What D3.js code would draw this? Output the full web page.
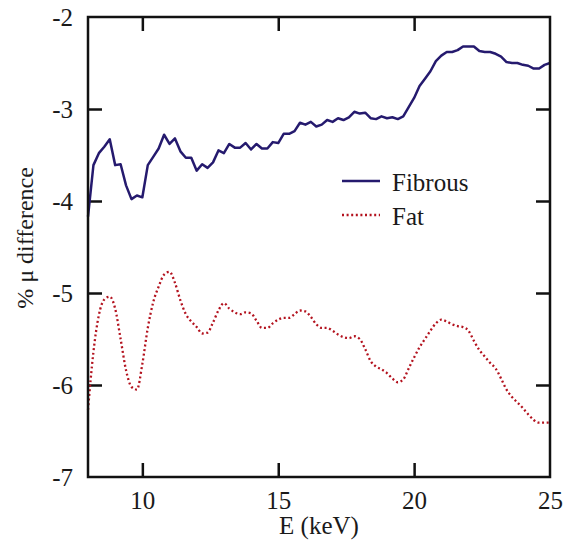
<!DOCTYPE html>
<html lang="en">
<head>
    <meta charset="UTF-8">
    <title>% mu difference</title>
    <script src="https://d3js.org/d3.v7.min.js"></script>
    <style>
        body { margin: 0; background: #fff; }
        svg text { font-family: "Liberation Serif", "Times New Roman", Tinos, "Noto Serif", "DejaVu Serif", FreeSerif, Georgia, serif; fill: #1a1a1a; }
    </style>
</head>
<body>
    <svg width="568" height="542" id="mainsvg"></svg>

    <script>
        // energies (keV)
        const energy = [8.0, 8.2, 8.4, 8.6, 8.8, 9.0, 9.2, 9.4, 9.6, 9.8,
            10.0, 10.2, 10.4, 10.6, 10.8, 11.0, 11.2, 11.4, 11.6, 11.8,
            12.0, 12.2, 12.4, 12.6, 12.8, 13.0, 13.2, 13.4, 13.6, 13.8,
            14.0, 14.2, 14.4, 14.6, 14.8, 15.0, 15.2, 15.4, 15.6, 15.8,
            16.0, 16.2, 16.4, 16.6, 16.8, 17.0, 17.2, 17.4, 17.6, 17.8,
            18.0, 18.2, 18.4, 18.6, 18.8, 19.0, 19.2, 19.4, 19.6, 19.8,
            20.0, 20.2, 20.4, 20.6, 20.8, 21.0, 21.2, 21.4, 21.6, 21.8,
            22.0, 22.2, 22.4, 22.6, 22.8, 23.0, 23.2, 23.4, 23.6, 23.8,
            24.0, 24.2, 24.4, 24.6, 24.8, 25.0]

        const fibrous = [-4.17, -3.61, -3.48, -3.41, -3.33, -3.61, -3.60, -3.83, -3.98, -3.94,
            -3.96, -3.61, -3.52, -3.43, -3.28, -3.38, -3.32, -3.46, -3.53, -3.53,
            -3.67, -3.60, -3.64, -3.58, -3.45, -3.48, -3.38, -3.42, -3.42, -3.37,
            -3.44, -3.38, -3.43, -3.43, -3.36, -3.37, -3.27, -3.27, -3.24, -3.15,
            -3.17, -3.14, -3.19, -3.17, -3.12, -3.14, -3.10, -3.12, -3.09, -3.03,
            -3.05, -3.04, -3.10, -3.11, -3.08, -3.10, -3.09, -3.11, -3.08, -2.98,
            -2.88, -2.75, -2.67, -2.59, -2.48, -2.42, -2.38, -2.38, -2.36, -2.32,
            -2.32, -2.32, -2.37, -2.38, -2.38, -2.40, -2.43, -2.49, -2.50, -2.50,
            -2.52, -2.53, -2.56, -2.56, -2.52, -2.50]

        const fat = [-6.27, -5.64, -5.24, -5.07, -5.04, -5.17, -5.50, -5.84, -6.02, -6.05,
            -5.77, -5.38, -5.10, -4.93, -4.80, -4.77, -4.89, -5.08, -5.23, -5.31,
            -5.37, -5.44, -5.43, -5.32, -5.19, -5.11, -5.17, -5.21, -5.23, -5.21,
            -5.22, -5.30, -5.38, -5.38, -5.33, -5.29, -5.27, -5.27, -5.23, -5.19,
            -5.20, -5.26, -5.34, -5.38, -5.38, -5.41, -5.45, -5.48, -5.49, -5.47,
            -5.50, -5.61, -5.74, -5.80, -5.83, -5.87, -5.93, -5.97, -5.94, -5.82,
            -5.70, -5.59, -5.50, -5.41, -5.33, -5.29, -5.31, -5.34, -5.36, -5.37,
            -5.41, -5.52, -5.62, -5.69, -5.76, -5.82, -5.93, -6.05, -6.13, -6.19,
            -6.25, -6.32, -6.38, -6.41, -6.41, -6.41]

        const xTicks = [10, 15, 20, 25]
        const yTicks = [-2, -3, -4, -5, -6, -7]
        const seriesNames = ["Fibrous", "Fat"]

        const svg = d3.select("#mainsvg")
        const margin = {top: 17, right: 18, bottom: 65, left: 88}
        const innerWidth = +svg.attr("width") - margin.left - margin.right,
            innerHeight = +svg.attr("height") - margin.top - margin.bottom
        const g = svg.append("g").attr("transform", `translate(${margin.left}, ${margin.top})`)

        const xScale = d3.scaleLinear().domain([8, 25]).range([0, innerWidth])
        const yScale = d3.scaleLinear().domain([-7, -2]).range([innerHeight, 0])

        const tickLen = 14
        const fontSize = 25
        const plain = d => String(d)   // hyphen minus, no decimals

        // ticks point inward on all four sides, labels only bottom and left
        const xBottom = g.append("g").attr("transform", `translate(0, ${innerHeight})`)
            .call(d3.axisBottom(xScale).tickValues(xTicks).tickSizeInner(-tickLen).tickSizeOuter(0).tickPadding(14).tickFormat(plain))
        const xTop = g.append("g")
            .call(d3.axisTop(xScale).tickValues(xTicks).tickSizeInner(-tickLen).tickSizeOuter(0))
        const yLeft = g.append("g")
            .call(d3.axisLeft(yScale).tickValues(yTicks).tickSizeInner(-tickLen).tickSizeOuter(0).tickPadding(15).tickFormat(plain))
        const yRight = g.append("g").attr("transform", `translate(${innerWidth}, 0)`)
            .call(d3.axisRight(yScale).tickValues(yTicks).tickSizeInner(-tickLen).tickSizeOuter(0))

        xTop.selectAll(".tick text").remove()
        yRight.selectAll(".tick text").remove()

        ;[xBottom, xTop, yLeft, yRight].forEach(ax => {
            ax.attr("font-family", null).attr("font-size", fontSize)
            ax.select(".domain").remove()
            ax.selectAll(".tick line").attr("stroke", "#111").attr("stroke-width", 2.5)
        })
        // tick marks at the plot corners are hidden in the frame
        ;[xBottom, xTop].forEach(ax => ax.selectAll(".tick").filter(d => d === 25).select("line").remove())
        ;[yLeft, yRight].forEach(ax => ax.selectAll(".tick").filter(d => d === -2 || d === -7).select("line").remove())

        // data lines
        const rows = energy.map((e, i) => ({e: e, fibrous: fibrous[i], fat: fat[i]}))

        const lineFib = d3.line().x(d => xScale(d.e)).y(d => yScale(d.fibrous))
        const lineFat = d3.line().x(d => xScale(d.e)).y(d => yScale(d.fat)).curve(d3.curveMonotoneX)

        g.append("path").datum(rows)
            .attr("d", lineFib)
            .attr("fill", "none")
            .attr("stroke", "#251a6e")
            .attr("stroke-width", 2.5)
            .attr("stroke-linejoin", "round")

        g.append("path").datum(rows)
            .attr("d", lineFat)
            .attr("fill", "none")
            .attr("stroke", "#b3121e")
            .attr("stroke-width", 2.3)
            .attr("stroke-dasharray", "2,2.6")

        // frame
        g.append("rect")
            .attr("width", innerWidth).attr("height", innerHeight)
            .attr("fill", "none").attr("stroke", "#111").attr("stroke-width", 2.5)

        // legend
        const legend = g.append("g").attr("transform", "translate(254, 164)")
        const legendStyles = [
            {color: "#251a6e", dash: null, width: 2.5},
            {color: "#b3121e", dash: "2,2.6", width: 2.3}
        ]
        seriesNames.forEach((name, i) => {
            const row = legend.append("g").attr("transform", `translate(0, ${i * 34})`)
            row.append("line")
                .attr("x1", 0).attr("x2", 38)
                .attr("y1", 0).attr("y2", 0)
                .attr("stroke", legendStyles[i].color)
                .attr("stroke-width", legendStyles[i].width)
                .attr("stroke-dasharray", legendStyles[i].dash)
            row.append("text")
                .attr("x", 50).attr("y", 10)
                .attr("font-size", fontSize)
                .text(name)
        })

        // axis titles
        svg.append("text")
            .attr("x", margin.left + innerWidth / 2).attr("y", 534)
            .attr("text-anchor", "middle")
            .attr("font-size", fontSize)
            .text("E (keV)")

        svg.append("text")
            .attr("transform", "translate(33, 238) rotate(-90)")
            .attr("text-anchor", "middle")
            .attr("font-size", 24)
            .text("% μ difference")
    </script>
</body>
</html>
